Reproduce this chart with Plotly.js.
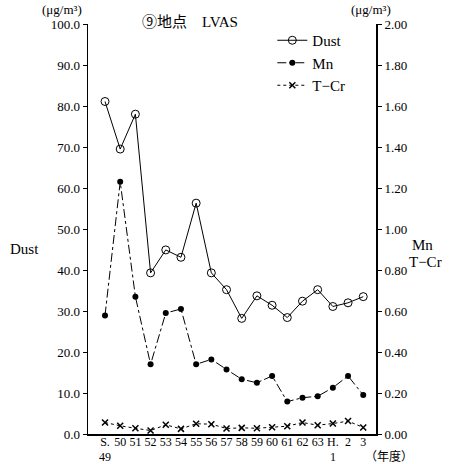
<!DOCTYPE html>
<html>
<head>
<meta charset="utf-8">
<script src="https://cdn.plot.ly/plotly-3.0.1.min.js"></script>
<style>html,body{margin:0;padding:0;background:#fff;}#chart{width:453px;height:464px;}</style>
</head>
<body>
<div id="chart"></div>
<script>
const years = ["S.49","50","51","52","53","54","55","56","57","58","59","60","61","62","63","H.1","2","3"];
const tickLabels = ["S.","50","51","52","53","54","55","56","57","58","59","60","61","62","63","H.","2","3"];
const subLabels = {"S.49": "49", "H.1": "1"};
const dust = [81.1,69.5,78.0,39.3,44.9,43.1,56.3,39.3,35.2,28.2,33.7,31.4,28.4,32.4,35.2,31.1,32.0,33.5];
const mn = [0.578,1.23,0.67,0.34,0.59,0.61,0.34,0.364,0.315,0.267,0.25,0.283,0.158,0.177,0.184,0.226,0.283,0.19];
const tcr = [0.056,0.040,0.028,0.017,0.045,0.025,0.050,0.048,0.027,0.030,0.028,0.033,0.038,0.056,0.043,0.051,0.063,0.032];
const leftTicks = [0,10,20,30,40,50,60,70,80,90,100];
const rightTicks = [0,0.2,0.4,0.6,0.8,1.0,1.2,1.4,1.6,1.8,2.0];

const serif = "'Liberation Serif', 'Noto Sans CJK JP', serif";
const tickFont = {family: serif, size: 13, color: '#000'};
const xTickFont = {family: serif, size: 12, color: '#000'};

const traces = [
  {x: years, y: dust, name: 'Dust', type: 'scatter', mode: 'lines+markers', yaxis: 'y',
   line: {color: '#000', width: 1},
   marker: {symbol: 'circle-open', size: 8, color: '#000', line: {width: 1, color: '#000'}}},
  {x: years, y: mn, name: 'Mn', type: 'scatter', mode: 'lines+markers', yaxis: 'y2',
   line: {color: '#000', width: 1, dash: 'dashdot'},
   marker: {symbol: 'circle', size: 6, color: '#000'}},
  {x: years, y: tcr, name: 'T−Cr', type: 'scatter', mode: 'lines+markers', yaxis: 'y2',
   line: {color: '#000', width: 1, dash: 'dot'},
   marker: {symbol: 'x-thin-open', size: 6, color: '#000', line: {width: 1.5, color: '#000'}}}
];

const annotations = [
  {text: '(μg/m³)', xref: 'paper', yref: 'paper', x: -0.167, y: 1.036, xanchor: 'left', yanchor: 'middle', showarrow: false, font: {family: serif, size: 13, color: '#000'}},
  {text: '(μg/m³)', xref: 'paper', yref: 'paper', x: 1.059, y: 1.036, xanchor: 'right', yanchor: 'middle', showarrow: false, font: {family: serif, size: 13, color: '#000'}},
  {text: '⑨地点　LVAS', xref: 'paper', yref: 'paper', x: 0.18, y: 1.005, xanchor: 'left', yanchor: 'middle', showarrow: false, font: {family: serif, size: 15, color: '#000'}},
  {text: 'Dust', xref: 'paper', yref: 'paper', x: -0.278, y: 0.452, xanchor: 'left', yanchor: 'middle', showarrow: false, font: {family: serif, size: 15, color: '#000'}},
  {text: 'Mn', xref: 'paper', yref: 'paper', x: 1.118, y: 0.461, xanchor: 'left', yanchor: 'middle', showarrow: false, font: {family: serif, size: 15, color: '#000'}},
  {text: 'T−Cr', xref: 'paper', yref: 'paper', x: 1.108, y: 0.42, xanchor: 'left', yanchor: 'middle', showarrow: false, font: {family: serif, size: 15, color: '#000'}},
  {text: '（年度）', xref: 'paper', yref: 'paper', x: 1.045, y: -0.053, xanchor: 'center', yanchor: 'middle', showarrow: false, font: {family: "'Noto Sans CJK JP', sans-serif", size: 12, color: '#000'}}
];
Object.keys(subLabels).forEach(k => {
  annotations.push({text: subLabels[k], xref: 'x', yref: 'paper', x: k, y: -0.055, xanchor: 'center', yanchor: 'middle', showarrow: false, font: xTickFont});
});

const layout = {
  width: 453, height: 464,
  margin: {l: 88, r: 77, t: 24, b: 30},
  paper_bgcolor: '#fff', plot_bgcolor: '#fff',
  showlegend: true,
  legend: {x: 0.64, y: 1.0, xanchor: 'left', yanchor: 'top', bgcolor: 'rgba(0,0,0,0)',
           font: {family: serif, size: 15, color: '#000'}, tracegroupgap: 0, itemwidth: 30},
  xaxis: {type: 'category', range: [-1.12, 17.84], tickmode: 'array', tickvals: years, ticktext: tickLabels,
          showgrid: false, zeroline: false,
          showline: true, linecolor: '#000', linewidth: 1.5, ticks: '', tickfont: xTickFont,
          tickangle: 0, ticklabelstandoff: -4},
  yaxis: {range: [0, 100], tickvals: leftTicks, tickformat: '.1f', showgrid: false, zeroline: false,
          showline: true, linecolor: '#000', linewidth: 1.5, ticks: 'outside', ticklen: 4,
          tickcolor: '#000', tickfont: tickFont},
  yaxis2: {range: [0, 2], tickvals: rightTicks, tickformat: '.2f', overlaying: 'y', side: 'right',
           showgrid: false, zeroline: false, showline: true, linecolor: '#000', linewidth: 2,
           ticks: 'outside', ticklen: 4, tickcolor: '#000', tickfont: tickFont},
  annotations: annotations
};

Plotly.newPlot('chart', traces, layout, {displayModeBar: false, staticPlot: true});
</script>
</body>
</html>
